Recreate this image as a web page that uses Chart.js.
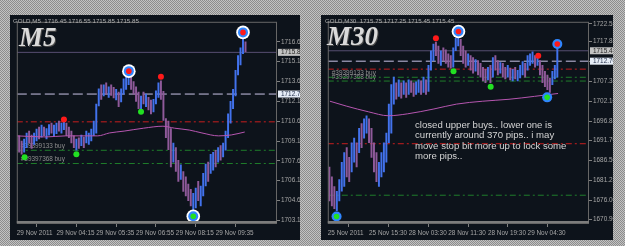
<!DOCTYPE html>
<html><head><meta charset="utf-8">
<script src="https://cdn.jsdelivr.net/npm/chart.js@4/dist/chart.umd.min.js"></script>
<style>
html,body{margin:0;padding:0;}
body{width:625px;height:246px;overflow:hidden;position:relative;
 background:repeating-conic-gradient(#c2c2c2 0 25%, #8c8c8c 0 50%) 0 0/2px 2px;}
.panel{position:absolute;background:#0d131b;}
canvas{position:absolute;}
.t{position:absolute;white-space:nowrap;font-family:"Liberation Sans",Arial,sans-serif;}
.hdr{font-size:6.2px;line-height:7px;color:#b0b0b0;}
.big{font-family:"Liberation Serif",serif;font-weight:bold;font-style:italic;font-size:27px;line-height:27px;color:#dadada;text-shadow:1px 1px 0 #4a4a4a;}
.note{font-size:9.6px;line-height:10.3px;color:#d4d4d4;}
</style></head>
<body>
<div class="panel" style="left:10px;top:15px;width:290px;height:225px"></div>
<div class="panel" style="left:321px;top:15px;width:292px;height:225px"></div>
<canvas id="c1" width="290" height="225" style="left:10px;top:15px"></canvas>
<canvas id="c2" width="292" height="225" style="left:321px;top:15px"></canvas>
<div class="t hdr" style="left:13px;top:17px">GOLD,M5&nbsp; 1716.45 1716.55 1715.85 1715.85</div>
<div class="t hdr" style="left:325px;top:17px">GOLD,M30&nbsp; 1715.75 1717.25 1715.45 1715.45</div>
<div class="t big" style="left:19px;top:24px">M5</div>
<div class="t big" style="left:327px;top:23px">M30</div>
<div class="t note" style="left:415px;top:120px">closed upper buys.. lower one is<br>currently around 370 pips.. i may<br>move stop bit more up to lock some<br>more pips..</div>
<script>
// ---------- M5 chart data ----------
const L_START = 1;
const L_LOW = [1708.30,1708.15,1708.30,1708.65,1709.00,1708.60,1708.90,1709.15,1709.30,1709.45,
1709.55,1709.30,1709.60,1709.75,1709.55,1709.70,1709.90,1709.75,1710.00,1709.55,
1709.40,1709.00,1708.65,1708.45,1708.60,1708.80,1708.65,1709.00,1708.90,1709.15,
1709.55,1709.75,1711.80,1712.30,1712.55,1712.70,1712.45,1712.60,1712.40,1712.25,
1711.75,1712.10,1712.70,1713.05,1713.40,1713.05,1712.70,1712.15,1711.60,1711.35,
1711.95,1711.75,1711.50,1711.20,1711.35,1711.95,1712.45,1712.30,1710.70,1709.40,
1708.50,1707.20,1707.55,1706.85,1706.10,1706.25,1705.35,1705.00,1704.65,1704.25,
1703.90,1704.10,1704.65,1704.25,1705.00,1705.75,1706.10,1706.70,1706.95,1707.20,
1707.55,1707.70,1707.95,1708.45,1709.40,1710.50,1711.60,1712.55,1714.15,1714.90,
1715.75,1715.90];
const L_HIGH = [1709.55,1709.15,1709.30,1709.75,1709.90,1709.60,1709.75,1710.05,1710.20,1710.35,
1710.20,1710.10,1710.40,1710.50,1710.35,1710.50,1710.65,1710.50,1710.70,1710.50,
1710.20,1709.90,1709.55,1709.30,1709.40,1709.60,1709.45,1709.90,1709.75,1710.05,
1710.65,1711.95,1713.10,1713.40,1713.40,1713.55,1713.25,1713.40,1713.20,1713.05,
1712.85,1713.10,1713.85,1714.15,1714.30,1714.00,1713.65,1713.25,1712.85,1712.55,
1712.85,1712.70,1712.45,1712.25,1712.30,1712.95,1713.55,1713.70,1712.90,1710.85,
1710.65,1710.10,1709.00,1708.65,1707.70,1707.35,1706.85,1706.45,1705.90,1705.50,
1705.20,1705.60,1706.10,1705.75,1706.70,1707.40,1707.55,1708.15,1708.30,1708.45,
1708.65,1708.80,1709.00,1709.90,1711.20,1712.15,1713.05,1714.50,1715.60,1716.20,
1716.90,1716.65];
const L_UP = [0,0,1,1,0,0,1,1,0,1, 0,1,1,0,1,1,0,1,1,0, 0,0,0,1,0,1,0,1,1,1,
1,1,1,0,1,0,1,0,0,1, 0,1,1,1,1,0,0,0,0,1, 0,1,0,0,1,1,1,0,0,0,
0,0,1,0,0,1,0,0,0,0, 1,1,0,1,1,1,0,1,1,0, 1,0,1,1,1,1,1,1,1,1, 1,0];
const L_MA_X = [0.05,11.8,19.7,32.6,37.3,43.2,51,58.8,63.5,69.4,74.5,81.2,86.3,91.7];
const L_MA_Y = [1709.54,1709.46,1709.54,1709.54,1709.76,1709.90,1710.12,1710.27,1710.12,1709.98,1709.76,1709.54,1709.61,1709.83];
const L_Y_TICKS = [1716.65,1715.15,1713.65,1712.15,1710.65,1709.15,1707.65,1706.15,1704.65,1703.15];
const L_X_TICKS = [0.05,16,32,48,64,80];
const L_X_LABELS = ["29 Nov 2011","29 Nov 04:15","29 Nov 05:35","29 Nov 06:55","29 Nov 08:15","29 Nov 09:35"];
const L_BID = 1715.85;
const L_CIRCLES = [[45.1,1714.43,'red',1],[91,1717.36,'red',1],[71,1703.47,'green',1]];
const L_DOTS = [[19,1710.78,'red'],[58,1714.0,'red'],[3.2,1707.93,'green'],[24,1708.15,'green'],[50,1711.37,'green']];

// ---------- M30 chart data ----------
const R_START = 0;
const R_LOW = [1675.80,1674.50,1673.75,1673.20,1675.80,1678.35,1679.60,1682.15,1680.90,1683.45,
1686.00,1684.75,1688.55,1689.85,1692.40,1693.70,1691.15,1687.30,1683.45,1680.90,
1679.60,1682.15,1683.45,1686.00,1691.15,1693.70,1701.35,1702.65,1703.40,1702.90,
1703.90,1703.15,1703.90,1704.45,1703.40,1703.90,1704.45,1703.90,1704.45,1703.90,
1704.70,1710.30,1712.85,1714.15,1712.10,1711.60,1712.85,1712.10,1711.10,1710.85,
1711.10,1715.45,1716.70,1714.15,1712.10,1711.10,1711.60,1710.30,1709.55,1710.05,
1709.05,1708.50,1707.50,1707.00,1707.75,1707.00,1708.50,1710.30,1709.05,1709.55,
1708.50,1708.00,1708.50,1707.75,1707.50,1708.00,1707.50,1708.25,1709.05,1708.50,
1710.30,1711.60,1712.10,1711.10,1711.60,1709.05,1707.00,1705.95,1705.20,1704.45,
1706.50,1708.00,1708.50];
const R_HIGH = [1684.75,1682.15,1679.60,1678.35,1681.40,1686.00,1688.55,1689.85,1687.30,1691.15,
1692.40,1691.15,1694.95,1696.25,1697.50,1698.30,1697.50,1694.95,1691.15,1688.55,
1686.00,1688.55,1691.15,1693.70,1701.35,1706.50,1708.50,1707.00,1707.75,1707.00,
1707.50,1707.00,1707.75,1707.50,1707.00,1707.25,1707.75,1707.50,1708.50,1707.75,
1711.60,1715.45,1717.20,1717.75,1716.70,1715.45,1716.20,1715.70,1714.65,1714.15,
1716.20,1718.75,1719.50,1718.50,1716.70,1715.45,1714.65,1714.15,1713.65,1713.15,
1712.85,1712.10,1711.10,1710.55,1711.10,1711.60,1713.65,1714.15,1712.85,1712.35,
1712.10,1711.10,1711.60,1710.85,1710.55,1711.10,1710.30,1711.60,1712.60,1712.10,
1714.15,1714.65,1715.15,1714.15,1713.65,1712.85,1711.60,1710.05,1709.05,1708.25,
1710.05,1711.60,1716.20];
const R_UP = [0,0,0,1,1,1,1,0,0,1, 1,0,1,0,1,1,0,0,0,0, 1,1,1,1,1,1,1,0,1,0,
1,0,1,0,0,1,1,0,1,0, 1,1,1,0,0,1,0,0,0,0, 1,1,1,0,0,0,1,0,0,1,
0,0,0,0,1,0,1,0,0,1, 0,0,1,0,1,0,1,1,1,0, 1,1,1,0,1,0,0,0,0,0, 1,1,1];
const R_MA_X = [0.2,6.8,15.9,23.8,31.6,42.2,51.3,61.9,72.5,82.8,92.3];
const R_MA_Y = [1702.13,1700.85,1699.31,1698.29,1698.80,1700.08,1701.36,1702.13,1702.64,1703.41,1704.17];
const R_Y_TICKS = [1722.55,1717.85,1712.60,1707.35,1702.10,1696.85,1691.70,1686.50,1681.25,1676.00,1670.90];
const R_X_TICKS = [-0.64,16,32,48,64,80];
const R_X_LABELS = ["25 Nov 2011","25 Nov 15:30","28 Nov 03:30","28 Nov 11:30","28 Nov 19:30","29 Nov 04:30"];
const R_BID = 1715.45;
const R_CIRCLES = [[52.1,1720.55,'red',1],[92,1717.22,'red',0],[87.9,1703.15,'green',0],[2.9,1671.69,'green',0]];
const R_DOTS = [[43,1718.75,'red'],[84.3,1714.15,'red'],[50.1,1710.06,'green'],[65.1,1705.96,'green']];

// ---------- shared trade levels ----------
const ENTRY_LINE = 1712.70;
const STOP_LINE = 1710.60;
const ORDER_LINES = [1708.45, 1707.45];
const ORDER_NAMES = ["#39399133 buy", "#39397368 buy"];
const LOWER_RED = 1690.90;
const LOWER_GREEN = 1677.30;

const COL = {up:'#4272ec', down:'#8f5a9a', ma:'#b656b0', red:'#ff1a1a', green:'#22e022',
  ring:'#2f86ff', bid:'#574e72', entry:'#c9c3e6', stop:'#c81e1e', ord:'#1f7d2b', txt:'#a6a6a6'};
const FONT = {family:'"Liberation Sans", Arial, sans-serif', size:6.4};

const mt4 = {
  id:'mt4',
  beforeDatasetsDraw(chart){
    const o=chart.options.plugins.mt4, ctx=chart.ctx, y=chart.scales.y, a=chart.chartArea;
    ctx.save(); ctx.font='6.4px "Liberation Sans"'; ctx.fillStyle='#8e8e8e'; ctx.textBaseline='middle';
    o.orders.forEach(r=>ctx.fillText(r[0], a.left+4, y.getPixelForValue(r[1])-4));
    ctx.restore();
  },
  afterDraw(chart){
    const o=chart.options.plugins.mt4, ctx=chart.ctx, y=chart.scales.y, a=chart.chartArea;
    ctx.save();
    ctx.strokeStyle='#666'; ctx.lineWidth=1;
    ctx.strokeRect(a.left+0.5,a.top+0.5,a.right-a.left-1,a.bottom-a.top-1);
    ctx.fillStyle='#7c7c7c'; ctx.fillRect(a.left,a.bottom-3,a.right-a.left,2);
    ctx.font='6.4px "Liberation Sans"'; ctx.textBaseline='middle';
    o.boxes.forEach(b=>{
      const py=y.getPixelForValue(b[0]);
      ctx.fillStyle=b[1]; ctx.fillRect(a.right+1,py-3.5,40,7);
      ctx.fillStyle=b[2]; ctx.fillText(b[0].toFixed(2), a.right+4, py);
    });
    ctx.restore();
  }
};

function build(id, d){
  const up=[], dn=[];
  d.low.forEach((lo,k)=>{ const p={x:d.start+k, y:[lo,d.high[k]]}; (d.up[k]?up:dn).push(p); });
  const hl=(v,c,dash)=>({type:'line',data:[{x:d.xMin,y:v},{x:d.xMax,y:v}],borderColor:c,borderWidth:1,borderDash:dash,pointRadius:0,order:20});
  const ds=[];
  d.levels.forEach(l=>ds.push(hl(l[0],l[1],l[2])));
  ds.push({type:'bar',data:dn,backgroundColor:COL.down,barThickness:1.3,grouped:false,order:10});
  ds.push({type:'bar',data:up,backgroundColor:COL.up,barThickness:1.3,grouped:false,order:10});
  ds.push({type:'line',data:d.maX.map((x,k)=>({x,y:d.maY[k]})),borderColor:COL.ma,borderWidth:1,pointRadius:0,cubicInterpolationMode:'monotone',order:8});
  const pt=(arr,r,c)=>({type:'line',showLine:false,data:arr.map(m=>({x:m[0],y:m[1]})),pointRadius:r,pointBackgroundColor:c,pointBorderWidth:0,order:1});
  ds.push(Object.assign(pt(d.circles.filter(c=>c[3]),6.8,'#ffffff'),{order:4}));
  ds.push(Object.assign(pt(d.circles,5,COL.ring),{order:3}));
  ds.push(Object.assign(pt(d.circles,2.8,d.circles.map(c=>COL[c[2]])),{order:2}));
  ds.push(pt(d.dots,3,d.dots.map(c=>COL[c[2]])));
  const zeroPad=s=>{s.paddingTop=0;s.paddingBottom=0;s.paddingLeft=0;s.paddingRight=0;};
  return new Chart(document.getElementById(id),{
    data:{datasets:ds},
    plugins:[mt4],
    options:{
      responsive:false, animation:false, devicePixelRatio:1,
      layout:{padding:0},
      plugins:{legend:{display:false},tooltip:{enabled:false},
        mt4:{boxes:d.boxes, orders:d.orders}},
      scales:{
        x:{type:'linear',min:d.xMin,max:d.xMax,offset:false,
          afterBuildTicks:s=>{s.ticks=d.xTicks.map(v=>({value:v}));},
          afterFit:s=>{s.height=16;zeroPad(s);},
          ticks:{autoSkip:false,maxRotation:0,minRotation:0,align:'start',padding:2,color:COL.txt,font:FONT,
            callback:(v,i)=>d.xLabels[i]},
          grid:{drawOnChartArea:false,drawTicks:true,tickLength:3,color:'#808080'},
          border:{display:false}},
        y:{type:'linear',position:'right',min:d.yMin,max:d.yMax,
          afterBuildTicks:s=>{s.ticks=d.yTicks.map(v=>({value:v}));},
          afterFit:s=>{s.width=d.yW;zeroPad(s);},
          ticks:{padding:1,color:COL.txt,font:FONT,callback:v=>Number(v).toFixed(2)},
          grid:{drawOnChartArea:false,drawTicks:true,tickLength:3,color:'#808080'},
          border:{display:false}}
      }
    }
  });
}

const dashDot=[6,3,2,3];
build('c1',{start:L_START,low:L_LOW,high:L_HIGH,up:L_UP,maX:L_MA_X,maY:L_MA_Y,
  xMin:0.05,xMax:104.67,yMin:1702.88,yMax:1718.16,yW:23,
  xTicks:L_X_TICKS,xLabels:L_X_LABELS,yTicks:L_Y_TICKS,
  circles:L_CIRCLES,dots:L_DOTS,
  levels:[[L_BID,COL.bid,[]],[ENTRY_LINE,COL.entry,[10,4]],[STOP_LINE,COL.stop,dashDot],
    [ORDER_LINES[0],COL.ord,dashDot],[ORDER_LINES[1],COL.ord,dashDot]],
  boxes:[[L_BID,'#c2c2c2','#1e1e1e'],[ENTRY_LINE,'#e6edf7','#1e2a44']],
  orders:[[ORDER_NAMES[0],ORDER_LINES[0]],[ORDER_NAMES[1],ORDER_LINES[1]]]});
build('c2',{start:R_START,low:R_LOW,high:R_HIGH,up:R_UP,maX:R_MA_X,maY:R_MA_Y,
  xMin:-0.64,xMax:104.79,yMin:1669.7,yMax:1723.1,yW:24,
  xTicks:R_X_TICKS,xLabels:R_X_LABELS,yTicks:R_Y_TICKS,
  circles:R_CIRCLES,dots:R_DOTS,
  levels:[[R_BID,COL.bid,[]],[ENTRY_LINE,COL.entry,[10,4]],[STOP_LINE,COL.stop,dashDot],
    [ORDER_LINES[0],COL.ord,dashDot],[ORDER_LINES[1],COL.ord,dashDot],
    [LOWER_RED,COL.stop,dashDot],[LOWER_GREEN,COL.ord,dashDot]],
  boxes:[[R_BID,'#c2c2c2','#1e1e1e'],[ENTRY_LINE,'#e6edf7','#1e2a44']],
  orders:[[ORDER_NAMES[0],ORDER_LINES[0]],[ORDER_NAMES[1],ORDER_LINES[1]]]});
</script>
</body></html>
